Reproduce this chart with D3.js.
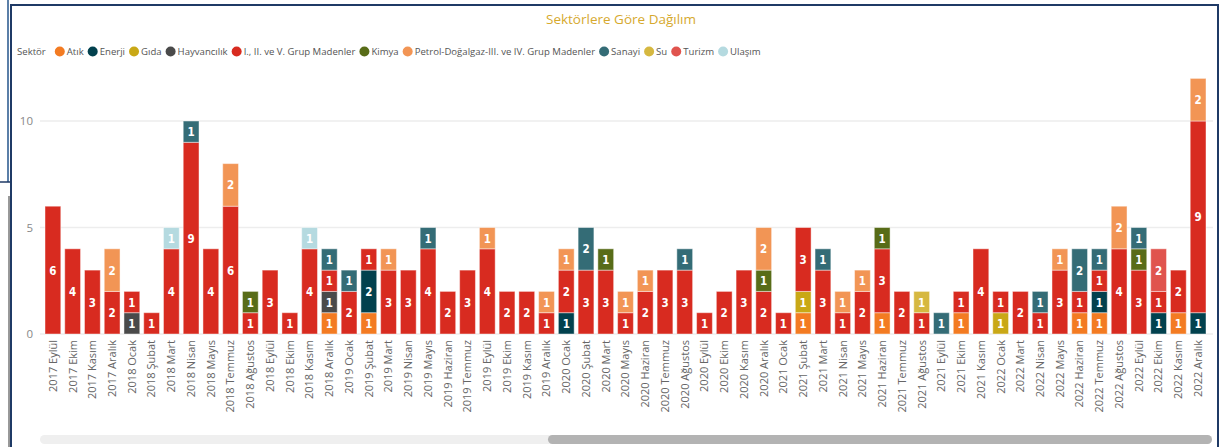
<!DOCTYPE html>
<html>
<head>
<meta charset="utf-8">
<script src="https://cdn.jsdelivr.net/npm/d3@7"></script>
<style>
  body { margin: 0; background: #fff; }
  svg { display: block; font-family: "Open Sans", "DejaVu Sans", sans-serif; }
</style>
</head>
<body>
<script>
var svg_width = 1224;
var svg_height = 447;

// Data
var months = ["2017 Eylül","2017 Ekim","2017 Kasım","2017 Aralık",
  "2018 Ocak","2018 Şubat","2018 Mart","2018 Nisan","2018 Mayıs","2018 Temmuz","2018 Ağustos","2018 Eylül","2018 Ekim","2018 Kasım","2018 Aralık",
  "2019 Ocak","2019 Şubat","2019 Mart","2019 Nisan","2019 Mayıs","2019 Haziran","2019 Temmuz","2019 Eylül","2019 Ekim","2019 Kasım","2019 Aralık",
  "2020 Ocak","2020 Şubat","2020 Mart","2020 Mayıs","2020 Haziran","2020 Temmuz","2020 Ağustos","2020 Eylül","2020 Ekim","2020 Kasım","2020 Aralık",
  "2021 Ocak","2021 Şubat","2021 Mart","2021 Nisan","2021 Mayıs","2021 Haziran","2021 Temmuz","2021 Ağustos","2021 Eylül","2021 Ekim","2021 Kasım",
  "2022 Ocak","2022 Mart","2022 Nisan","2022 Mayıs","2022 Haziran","2022 Temmuz","2022 Ağustos","2022 Eylül","2022 Ekim","2022 Kasım","2022 Aralık"];

var sectors = ["Atık","Enerji","Gıda","Hayvancılık","I., II. ve V. Grup Madenler","Kimya",
  "Petrol-Doğalgaz-III. ve IV. Grup Madenler","Sanayi","Su","Turizm","Ulaşım"];
var sectorColors = ["#F37B22","#02414E","#C9A816","#4A4A4A","#D82B20","#586C18",
  "#F29555","#346C76","#D6B840","#E0544E","#B5DAE0"];

var atik        = [0,0,0,0,0,0,0,0,0,0, 0,0,0,0,1,0,1,0,0,0, 0,0,0,0,0,0,0,0,0,0, 0,0,0,0,0,0,0,0,1,0, 0,0,1,0,0,0,1,0,0,0, 0,0,1,1,0,0,0,1,0];
var enerji      = [0,0,0,0,0,0,0,0,0,0, 0,0,0,0,0,0,2,0,0,0, 0,0,0,0,0,0,1,0,0,0, 0,0,0,0,0,0,0,0,0,0, 0,0,0,0,0,0,0,0,0,0, 0,0,0,1,0,0,1,0,1];
var gida        = [0,0,0,0,0,0,0,0,0,0, 0,0,0,0,0,0,0,0,0,0, 0,0,0,0,0,0,0,0,0,0, 0,0,0,0,0,0,0,0,1,0, 0,0,0,0,0,0,0,0,1,0, 0,0,0,0,0,0,0,0,0];
var hayvancilik = [0,0,0,0,1,0,0,0,0,0, 0,0,0,0,1,0,0,0,0,0, 0,0,0,0,0,0,0,0,0,0, 0,0,0,0,0,0,0,0,0,0, 0,0,0,0,0,0,0,0,0,0, 0,0,0,0,0,0,0,0,0];
var madenler    = [6,4,3,2,1,1,4,9,4,6, 1,3,1,4,1,2,1,3,3,4, 2,3,4,2,2,1,2,3,3,1, 2,3,3,1,2,3,2,1,3,3, 1,2,3,2,1,0,1,4,1,2, 1,3,1,1,4,3,1,2,9];
var kimya       = [0,0,0,0,0,0,0,0,0,0, 1,0,0,0,0,0,0,0,0,0, 0,0,0,0,0,0,0,0,1,0, 0,0,0,0,0,0,1,0,0,0, 0,0,1,0,0,0,0,0,0,0, 0,0,0,0,0,1,0,0,0];
var petrol      = [0,0,0,2,0,0,0,0,0,2, 0,0,0,0,0,0,0,1,0,0, 0,0,1,0,0,1,1,0,0,1, 1,0,0,0,0,0,2,0,0,0, 1,1,0,0,0,0,0,0,0,0, 0,1,0,0,2,0,0,0,2];
var sanayi      = [0,0,0,0,0,0,0,1,0,0, 0,0,0,0,1,1,0,0,0,1, 0,0,0,0,0,0,0,2,0,0, 0,0,1,0,0,0,0,0,0,1, 0,0,0,0,0,1,0,0,0,0, 1,0,2,1,0,1,0,0,0];
var su          = [0,0,0,0,0,0,0,0,0,0, 0,0,0,0,0,0,0,0,0,0, 0,0,0,0,0,0,0,0,0,0, 0,0,0,0,0,0,0,0,0,0, 0,0,0,0,1,0,0,0,0,0, 0,0,0,0,0,0,0,0,0];
var turizm      = [0,0,0,0,0,0,0,0,0,0, 0,0,0,0,0,0,0,0,0,0, 0,0,0,0,0,0,0,0,0,0, 0,0,0,0,0,0,0,0,0,0, 0,0,0,0,0,0,0,0,0,0, 0,0,0,0,0,0,2,0,0];
var ulasim      = [0,0,0,0,0,0,1,0,0,0, 0,0,0,1,0,0,0,0,0,0, 0,0,0,0,0,0,0,0,0,0, 0,0,0,0,0,0,0,0,0,0, 0,0,0,0,0,0,0,0,0,0, 0,0,0,0,0,0,0,0,0];

var yTicks = [0, 5, 10];

var seriesValues = [atik, enerji, gida, hayvancilik, madenler, kimya, petrol, sanayi, su, turizm, ulasim];

var table = months.map(function(m, i) {
  var row = { month: m };
  sectors.forEach(function(s, j) { row[s] = seriesValues[j][i]; });
  return row;
});

var svg = d3.select("body")
  .append("svg")
  .attr("width", svg_width)
  .attr("height", svg_height);

// frame of the report page
svg.append("rect").attr("x", 11).attr("y", 5).attr("width", 1207).attr("height", 460)
  .attr("fill", "none").attr("stroke", "#1F3A66").attr("stroke-width", 2);
svg.append("line").attr("x1", 8).attr("x2", 8).attr("y1", 0).attr("y2", 182)
  .attr("stroke", "#5B7FA8").attr("stroke-width", 2);
svg.append("line").attr("x1", 0).attr("x2", 10).attr("y1", 182).attr("y2", 182)
  .attr("stroke", "#1F3A66").attr("stroke-width", 1.5);
svg.append("line").attr("x1", 9).attr("x2", 9).attr("y1", 196).attr("y2", 447)
  .attr("stroke", "#333").attr("stroke-width", 1);

// title
svg.append("text")
  .attr("x", 621).attr("y", 24)
  .attr("text-anchor", "middle")
  .style("font-size", "13.5px")
  .attr("fill", "#D6A92E")
  .text("Sektörlere Göre Dağılım");

// legend - measure names first, then shrink font so the row ends where the original does
var legend = svg.append("g").attr("transform", "translate(17, 55)");
var probe = legend.append("text").style("font-size", "10.5px");
var natural = d3.sum(sectors, function(s) { return probe.text(s).node().getComputedTextLength(); });
probe.remove();
var legendFont = 10.5 * Math.min(1, 535 / natural);

var lx = 0;
var lt = legend.append("text").attr("x", lx).attr("y", 0)
  .style("font-size", legendFont + "px").attr("fill", "#555").text("Sektör");
lx += lt.node().getComputedTextLength() + 9;
sectors.forEach(function(s, j) {
  legend.append("circle").attr("cx", lx + 5).attr("cy", -3.5).attr("r", 5)
    .attr("fill", sectorColors[j]);
  var t = legend.append("text").attr("x", lx + 12).attr("y", 0)
    .style("font-size", legendFont + "px").attr("fill", "#555").text(s);
  lx += 12 + t.node().getComputedTextLength() + 4;
});

var x = d3.scaleBand()
  .domain(months)
  .range([45, 1206])
  .paddingInner(0.2)
  .paddingOuter(0);

var y = d3.scaleLinear()
  .domain([0, 10])
  .range([334, 121]);

// gridlines and y ticks
var grid = svg.append("g");
grid.selectAll("line").data(yTicks).enter().append("line")
  .attr("x1", 40).attr("x2", 1213)
  .attr("y1", function(d) { return y(d); })
  .attr("y2", function(d) { return y(d); })
  .attr("stroke", "#EDEDED").attr("stroke-width", 1.5);

var leftAxis = d3.axisLeft(y).tickValues(yTicks).tickSize(0).tickPadding(0);
svg.append("g")
  .attr("transform", "translate(33, 0)")
  .call(leftAxis)
  .call(function(g) { g.select(".domain").remove(); })
  .selectAll("text")
  .style("font-size", "11.5px")
  .style("font-family", "\"Open Sans\", sans-serif")
  .attr("fill", "#888");

// stacked bars
var stack = d3.stack().keys(sectors);
var stacked = stack(table);

var layers = svg.append("g").selectAll("g")
  .data(stacked)
  .enter()
  .append("g")
  .attr("fill", function(d, i) { return sectorColors[i]; });

layers.selectAll("rect")
  .data(function(d) { return d.filter(function(p) { return p[1] - p[0] > 0; }); })
  .enter()
  .append("rect")
  .attr("x", function(d) { return x(d.data.month); })
  .attr("y", function(d) { return y(d[1]); })
  .attr("width", x.bandwidth())
  .attr("height", function(d) { return y(d[0]) - y(d[1]); })
  .attr("stroke", "rgba(255,255,255,0.45)")
  .attr("stroke-width", 1);

layers.selectAll("text")
  .data(function(d) { return d.filter(function(p) { return p[1] - p[0] > 0; }); })
  .enter()
  .append("text")
  .attr("x", function(d) { return x(d.data.month) + x.bandwidth() / 2; })
  .attr("y", function(d) { return (y(d[0]) + y(d[1])) / 2 + 4.5; })
  .attr("text-anchor", "middle")
  .style("font-family", "\"DejaVu Sans Condensed\", \"DejaVu Sans\", sans-serif")
  .style("font-weight", "bold")
  .style("font-size", "11.5px")
  .attr("fill", "#fff")
  .text(function(d) { return d[1] - d[0]; });

// x axis labels
var bottomAxis = d3.axisBottom(x).tickSize(0).tickPadding(0);
svg.append("g")
  .attr("transform", "translate(0, 340)")
  .call(bottomAxis)
  .call(function(g) { g.select(".domain").remove(); })
  .selectAll("text")
  .attr("transform", "rotate(-90)")
  .attr("text-anchor", "end")
  .attr("x", 0)
  .attr("y", 0)
  .attr("dy", "0.35em")
  .style("font-size", "11px")
  .style("font-family", "\"Open Sans\", sans-serif")
  .attr("fill", "#666");

// scrollbar
svg.append("rect").attr("x", 40).attr("y", 435).attr("width", 1172).attr("height", 9)
  .attr("rx", 4.5).attr("fill", "#EFEFEF");
svg.append("rect").attr("x", 548).attr("y", 435).attr("width", 664).attr("height", 9)
  .attr("rx", 4.5).attr("fill", "#B3B3B3");
</script>
</body>
</html>
